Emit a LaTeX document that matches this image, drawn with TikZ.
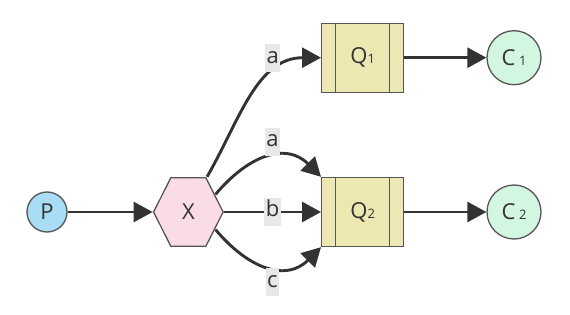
\documentclass[tikz,border=0pt]{standalone}
\usepackage{fontspec}
\setmainfont{Open Sans}
\usetikzlibrary{arrows.meta, positioning, calc}

\definecolor{bordegris}{HTML}{555555}
\definecolor{flechagris}{HTML}{333333}
\definecolor{prodazul}{HTML}{A9DCF5}
\definecolor{exrosa}{HTML}{FADDE4}
\definecolor{colaamarillo}{HTML}{EDE7B1}
\definecolor{consverde}{HTML}{D3F6E0}
\definecolor{etiquetagris}{HTML}{E8E8E8}

\newcommand{\subi}[1]{{\fontsize{13}{13}\selectfont #1}}

\begin{document}
\begin{tikzpicture}[
        x=1pt, y=1pt,
        base/.style={
            draw=bordegris,
            line width=1.3pt,
            inner sep=0pt,
            font=\fontsize{22}{24}\selectfont,
            text=flechagris
        },
        productor/.style={base, circle, minimum size=40pt, fill=prodazul},
        consumidor/.style={base, circle, minimum size=54pt, fill=consverde},
        cola/.style={
            base,
            rectangle,
            minimum width=82pt,
            minimum height=69pt,
            fill=colaamarillo,
            path picture={
                \draw[draw=bordegris, line width=1.3pt]
                    ([xshift=14pt]path picture bounding box.north west) -- ([xshift=14pt]path picture bounding box.south west)
                    ([xshift=-14pt]path picture bounding box.north east) -- ([xshift=-14pt]path picture bounding box.south east);
            }
        },
        intercambio/.style={
            rectangle,
            inner sep=0pt,
            minimum width=71pt,
            minimum height=70pt,
            font=\fontsize{22}{24}\selectfont,
            text=flechagris,
            path picture={
                \filldraw[fill=exrosa, draw=bordegris, line width=1.3pt]
                    ([xshift=0.7pt]path picture bounding box.west)
                    -- ([xshift=18pt, yshift=-0.7pt]path picture bounding box.north west)
                    -- ([xshift=-18pt, yshift=-0.7pt]path picture bounding box.north east)
                    -- ([xshift=-0.7pt]path picture bounding box.east)
                    -- ([xshift=-18pt, yshift=0.7pt]path picture bounding box.south east)
                    -- ([xshift=18pt, yshift=0.7pt]path picture bounding box.south west)
                    -- cycle;
            }
        },
        flecha/.style={-{Triangle[length=19pt, width=20pt]}, line width=2.9pt, draw=flechagris},
        etiqueta/.style={
            fill=etiquetagris,
            inner xsep=1.5pt,
            inner ysep=0pt,
            text height=19pt,
            text depth=9pt,
            font=\fontsize{22}{24}\selectfont,
            text=flechagris
        }
    ]
        \useasboundingbox (0,0) rectangle (570,-315);

        \node[productor] (p) at (47,-212) {P};
        \node[intercambio, right=85pt of p] (x) {X};
        \node[cola, right=97pt of x] (q2) {Q\subi{2}};
        \node[cola, above=84pt of q2] (q1) {Q\subi{1}};
        \node[consumidor, right=82pt of q1] (c1) {C\,\subi{1}};
        \node[consumidor, right=82pt of q2] (c2) {C\,\subi{2}};

        \draw[flecha] (p) -- (x);
        \draw[flecha] ([xshift=-17pt]x.north east) to[out=60, in=180]
            node[etiqueta, pos=0.69, anchor=south] {a} (q1);
        \draw[flecha] ($(x.east)!0.5!([xshift=-17pt]x.north east)$) to[out=50, in=135, looseness=1.2]
            node[etiqueta, pos=0.55, anchor=south] {a} (q2.north west);
        \draw[flecha] (x) -- node[etiqueta] {b} (q2);
        \draw[flecha] ($(x.east)!0.5!([xshift=-17pt]x.south east)$) to[out=-50, in=-135, looseness=1.2]
            node[etiqueta, pos=0.55, anchor=north] {c} (q2.south west);
        \draw[flecha] (q1) -- (c1);
        \draw[flecha] (q2) -- (c2);
    \end{tikzpicture}
\end{document}
